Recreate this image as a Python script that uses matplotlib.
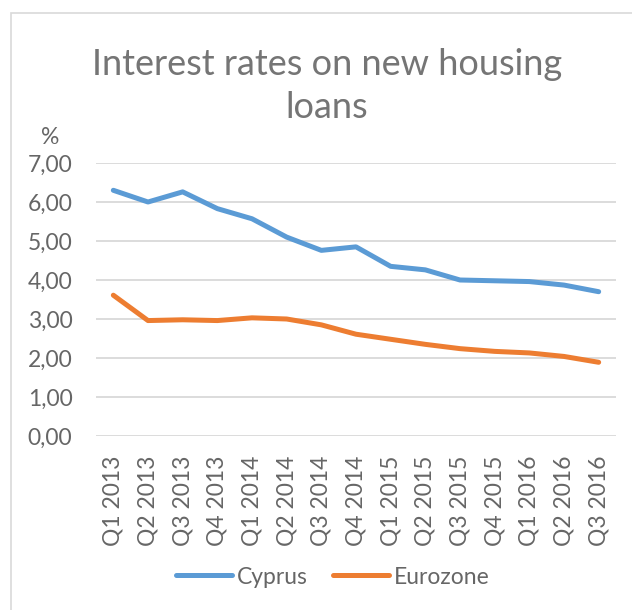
import matplotlib.pyplot as plt
from matplotlib.patches import Rectangle

quarters = ['Q1 2013', 'Q2 2013', 'Q3 2013', 'Q4 2013', 'Q1 2014', 'Q2 2014',
            'Q3 2014', 'Q4 2014', 'Q1 2015', 'Q2 2015', 'Q3 2015', 'Q4 2015',
            'Q1 2016', 'Q2 2016', 'Q3 2016']
cyprus = [6.30, 6.00, 6.26, 5.83, 5.57, 5.10, 4.76, 4.85, 4.35, 4.26,
          4.00, 3.98, 3.96, 3.87, 3.70]
eurozone = [3.61, 2.96, 2.98, 2.96, 3.03, 3.00, 2.85, 2.61, 2.48, 2.35,
            2.24, 2.17, 2.13, 2.04, 1.89]
yticks = [0, 1, 2, 3, 4, 5, 6, 7]

plt.rcParams['font.family'] = ['Lato', 'DejaVu Sans']
txt = '#666666'

fig = plt.figure(figsize=(6.32, 6.10), dpi=100)
fig.patches.append(Rectangle((11 / 632, -0.1), 1.2, 1 - 13 / 610 + 0.1,
                             transform=fig.transFigure, fill=False,
                             edgecolor='#D9D9D9', linewidth=1.2))

ax = fig.add_axes([96 / 632, 1 - 436 / 610, 520 / 632, 273 / 610])
x = range(len(quarters))
ax.plot(x, cyprus, color='#5B9BD5', linewidth=3.6, label='Cyprus',
        solid_capstyle='round')
ax.plot(x, eurozone, color='#ED7D31', linewidth=3.6, label='Eurozone',
        solid_capstyle='round')

ax.set_xlim(-0.5, len(quarters) - 0.5)
ax.set_ylim(0, 7)
ax.set_yticks(yticks)
ax.set_yticklabels(['%d,00' % v for v in yticks])
ax.set_xticks(list(x))
ax.set_xticklabels(quarters, rotation=90)
ax.tick_params(axis='both', length=0, colors=txt, labelsize=16.5)
ax.tick_params(axis='x', pad=14)
ax.tick_params(axis='y', pad=17)
ax.grid(axis='y', color='#D9D9D9', linewidth=1.3)
ax.set_axisbelow(True)
for s in ax.spines.values():
    s.set_visible(False)

fig.text(50 / 632, 1 - 137 / 610, '%', color=txt, fontsize=16.5,
         ha='center', va='center')
fig.text(327 / 632, 1 - 86 / 610, 'Interest rates on new housing\nloans',
         color='#757575', fontsize=26, ha='center', va='center',
         linespacing=1.36)

fig.legend(loc='center', bbox_to_anchor=(333 / 632, 1 - 577 / 610), ncol=2,
           frameon=False, fontsize=16.5, labelcolor=txt, handlelength=2.45,
           handletextpad=0.2, columnspacing=1.1)

fig.savefig('out.png', dpi=100)
